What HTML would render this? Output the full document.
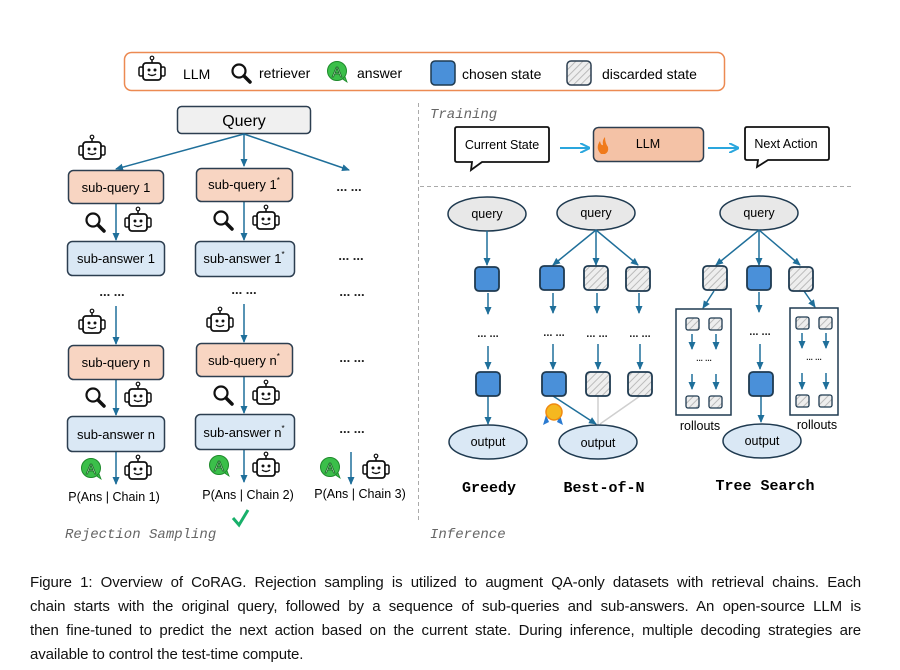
<!DOCTYPE html>
<html><head><meta charset="utf-8"><style>
body{margin:0;background:#fff;width:900px;height:670px;overflow:hidden}
svg{display:block}
text{font-family:"Liberation Sans",sans-serif}
text.mono,.mono text{font-family:"Liberation Mono",monospace}
.cap{position:absolute;left:30px;top:571px;width:831px;font-family:"Liberation Sans",sans-serif;font-size:15px;line-height:24px;color:#111}
.cap div{text-align:justify;text-align-last:justify;white-space:nowrap;letter-spacing:-0.1px}
.cap div.l{text-align-last:left}
</style></head><body>
<svg width="900" height="670" viewBox="0 0 900 670">
<defs>
<marker id="a" markerWidth="8" markerHeight="8" refX="7" refY="4" orient="auto" markerUnits="userSpaceOnUse"><path d="M0,0.5 L8,4 L0,7.5Z" fill="#1f6f9a"/></marker>
<marker id="b" markerWidth="10" markerHeight="10" refX="9" refY="5" orient="auto" markerUnits="userSpaceOnUse"><path d="M0,0 L10,5 L0,10" fill="none" stroke="#2aa6dd" stroke-width="2"/></marker>
<pattern id="h" width="5" height="5" patternUnits="userSpaceOnUse" patternTransform="rotate(45)"><rect width="5" height="5" fill="#eee"/><line x1="0" y1="0" x2="0" y2="5" stroke="#bbb" stroke-width="2"/></pattern>
<g id="bot"><line x1="15" y1="2" x2="15" y2="7" stroke="#111" stroke-width="1.5"/><circle cx="15" cy="2" r="1.8" fill="#fff" stroke="#111" stroke-width="1.2"/><rect x="6" y="7" width="18" height="17" rx="3" fill="#fff" stroke="#111" stroke-width="1.8"/><rect x="2" y="11" width="4" height="9" rx="1.5" fill="#fff" stroke="#111" stroke-width="1.5"/><rect x="24" y="11" width="4" height="9" rx="1.5" fill="#fff" stroke="#111" stroke-width="1.5"/><circle cx="12" cy="14" r="1.5" fill="#111"/><circle cx="18" cy="14" r="1.5" fill="#111"/><path d="M11,18 Q15,21 19,18" fill="none" stroke="#111" stroke-width="1.4"/></g>
<g id="mag"><circle cx="9" cy="9" r="6.5" fill="none" stroke="#111" stroke-width="2.2"/><line x1="14" y1="14" x2="20" y2="20" stroke="#111" stroke-width="3.5" stroke-linecap="round"/></g>
<g id="ans"><path d="M14,17 L20,21 L17,13Z" fill="#3bbf4a" stroke="#1d8a2a" stroke-width="0.8"/><circle cx="10" cy="10" r="9.5" fill="#3bbf4a" stroke="#1d8a2a" stroke-width="1"/><text x="10" y="16" font-size="15" text-anchor="middle" fill="#c8f5c8" stroke="#1d6a2a" stroke-width="0.8">A</text></g>
</defs>

<rect x="124.5" y="52.5" width="600" height="38" rx="7" fill="#fff" stroke="#ec8a52" stroke-width="1.5"/>
<use href="#bot" x="137" y="56"/>
<text x="183" y="79" font-size="14">LLM</text>
<use href="#mag" x="230" y="62"/>
<text x="259" y="78" font-size="14">retriever</text>
<use href="#ans" x="327" y="61"/>
<text x="357" y="78" font-size="14">answer</text>
<rect x="431" y="61" width="24" height="24" rx="4" fill="#4a90d9" stroke="#1e3a50" stroke-width="1.5"/>
<text x="462" y="79" font-size="14">chosen state</text>
<rect x="567" y="61" width="24" height="24" rx="4" fill="url(#h)" stroke="#2c3e50" stroke-width="1.5"/>
<text x="602" y="79" font-size="14">discarded state</text>

<line x1="418.5" y1="103" x2="418.5" y2="522" stroke="#aaa" stroke-dasharray="4,3"/>
<line x1="420" y1="186.5" x2="852" y2="186.5" stroke="#aaa" stroke-dasharray="4,3"/>

<rect x="177.5" y="106.5" width="133" height="27" rx="4" fill="#f0f0f0" stroke="#2c3e50" stroke-width="1.5"/>
<text x="244" y="126" font-size="16" text-anchor="middle">Query</text>
<g stroke="#1f6f9a" stroke-width="1.5" marker-end="url(#a)">
<line x1="244" y1="134" x2="116" y2="169"/>
<line x1="244" y1="134" x2="244" y2="166"/>
<line x1="244" y1="134" x2="349" y2="170"/>
<line x1="116" y1="204" x2="116" y2="240"/>
<line x1="244" y1="202" x2="244" y2="240"/>
<line x1="116" y1="306" x2="116" y2="344"/>
<line x1="244" y1="304" x2="244" y2="342"/>
<line x1="116" y1="380" x2="116" y2="415"/>
<line x1="244" y1="377" x2="244" y2="413"/>
<line x1="116" y1="452" x2="116" y2="484"/>
<line x1="244" y1="450" x2="244" y2="482"/>
<line x1="351" y1="452" x2="351" y2="484"/>
</g>
<use href="#bot" x="77" y="135"/>
<g font-size="13" text-anchor="middle">
<rect x="68.5" y="170.5" width="95" height="33" rx="5" fill="#f8d5c2" stroke="#2c3e50" stroke-width="1.5"/><text x="116" y="192">sub-query 1</text>
<rect x="196.5" y="168.5" width="96" height="33" rx="5" fill="#f8d5c2" stroke="#2c3e50" stroke-width="1.5"/><text x="244" y="189">sub-query 1<tspan font-size="8" dy="-6">*</tspan></text>
<rect x="67.5" y="241.5" width="97" height="34" rx="5" fill="#dae8f5" stroke="#2c3e50" stroke-width="1.5"/><text x="116" y="263">sub-answer 1</text>
<rect x="195.5" y="241.5" width="99" height="35" rx="5" fill="#dae8f5" stroke="#2c3e50" stroke-width="1.5"/><text x="244" y="263">sub-answer 1<tspan font-size="8" dy="-6">*</tspan></text>
<rect x="68.5" y="345.5" width="95" height="34" rx="5" fill="#f8d5c2" stroke="#2c3e50" stroke-width="1.5"/><text x="116" y="367">sub-query n</text>
<rect x="196.5" y="343.5" width="96" height="33" rx="5" fill="#f8d5c2" stroke="#2c3e50" stroke-width="1.5"/><text x="244" y="365">sub-query n<tspan font-size="8" dy="-6">*</tspan></text>
<rect x="67.5" y="416.5" width="97" height="35" rx="5" fill="#dae8f5" stroke="#2c3e50" stroke-width="1.5"/><text x="116" y="439">sub-answer n</text>
<rect x="195.5" y="414.5" width="99" height="35" rx="5" fill="#dae8f5" stroke="#2c3e50" stroke-width="1.5"/><text x="244" y="437">sub-answer n<tspan font-size="8" dy="-6">*</tspan></text>
</g>
<use href="#mag" x="84" y="211"/><use href="#bot" x="123" y="207"/>
<use href="#mag" x="212" y="209"/><use href="#bot" x="251" y="205"/>
<use href="#bot" x="77" y="309"/><use href="#bot" x="205" y="307"/>
<use href="#mag" x="84" y="386"/><use href="#bot" x="123" y="382"/>
<use href="#mag" x="212" y="384"/><use href="#bot" x="251" y="380"/>
<use href="#ans" x="81" y="458"/><use href="#bot" x="123" y="455"/>
<use href="#ans" x="209" y="455"/><use href="#bot" x="251" y="452"/>
<use href="#ans" x="320" y="457"/><use href="#bot" x="361" y="454"/>
<g font-size="13" font-weight="bold" text-anchor="middle" fill="#222">
<text x="349" y="191">... ...</text><text x="351" y="260">... ...</text>
<text x="112" y="296">... ...</text><text x="244" y="294">... ...</text><text x="352" y="296">... ...</text>
<text x="352" y="362">... ...</text><text x="352" y="433">... ...</text>
</g>
<g font-size="12.5" text-anchor="middle">
<text x="114" y="501">P(Ans | Chain 1)</text><text x="248" y="499">P(Ans | Chain 2)</text><text x="360" y="498">P(Ans | Chain 3)</text>
</g>
<path d="M233,518 L239,525 L248,510" fill="none" stroke="#18b06a" stroke-width="3"/>
<text x="65" y="538" class="mono" font-size="14" font-style="italic" fill="#666">Rejection Sampling</text>

<text x="430" y="118" class="mono" font-size="14" font-style="italic" fill="#666">Training</text>
<path d="M457,127 H547 Q549,127 549,129 V160 Q549,162 547,162 H482 L471,170 L472,162 H457 Q455,162 455,160 V129 Q455,127 457,127Z" fill="#fff" stroke="#111" stroke-width="1.8"/>
<text x="502" y="149" font-size="12.5" text-anchor="middle">Current State</text>
<line x1="560" y1="148" x2="589" y2="148" stroke="#2aa6dd" stroke-width="2" marker-end="url(#b)"/>
<rect x="593.5" y="127.5" width="110" height="34" rx="5" fill="#f4c2a6" stroke="#2c3e50" stroke-width="1.5"/>
<path d="M601,154 Q595,148 600,141 Q601,146 603,145 Q602,140 605,137 Q605,143 608,147 Q609,152 605,154Z" fill="#f07a1a"/>
<text x="648" y="148" font-size="12.5" text-anchor="middle">LLM</text>
<line x1="708" y1="148" x2="738" y2="148" stroke="#2aa6dd" stroke-width="2" marker-end="url(#b)"/>
<path d="M747,127 H827 Q829,127 829,129 V158 Q829,160 827,160 H768 L757,167 L758,160 H747 Q745,160 745,158 V129 Q745,127 747,127Z" fill="#fff" stroke="#111" stroke-width="1.8"/>
<text x="786" y="148" font-size="12.5" text-anchor="middle">Next Action</text>

<g stroke="#1f3a50" stroke-width="1.5">
<ellipse cx="487" cy="214" rx="39" ry="17" fill="#e8e8e8"/>
<ellipse cx="596" cy="213" rx="39" ry="17" fill="#e8e8e8"/>
<ellipse cx="759" cy="213" rx="39" ry="17" fill="#e8e8e8"/>
</g>
<g font-size="12.5" text-anchor="middle"><text x="487" y="218">query</text><text x="596" y="217">query</text><text x="759" y="217">query</text></g>
<g stroke="#cfcfcf" stroke-width="1.5"><line x1="598" y1="396" x2="598" y2="424"/><line x1="640" y1="396" x2="600" y2="424"/></g>
<g stroke="#1f6f9a" stroke-width="1.5" marker-end="url(#a)">
<line x1="487" y1="231" x2="487" y2="265"/>
<line x1="596" y1="230" x2="553" y2="265"/><line x1="596" y1="230" x2="596" y2="265"/><line x1="596" y1="230" x2="638" y2="265"/>
<line x1="759" y1="230" x2="716" y2="265"/><line x1="759" y1="230" x2="759" y2="265"/><line x1="759" y1="230" x2="800" y2="265"/>
<line x1="488" y1="293" x2="488" y2="314"/><line x1="553" y1="293" x2="553" y2="313"/><line x1="597" y1="293" x2="597" y2="313"/><line x1="639" y1="293" x2="639" y2="313"/>
<line x1="759" y1="292" x2="759" y2="312"/>
<line x1="488" y1="346" x2="488" y2="369"/><line x1="553" y1="344" x2="553" y2="369"/><line x1="598" y1="344" x2="598" y2="369"/><line x1="640" y1="344" x2="640" y2="369"/>
<line x1="760" y1="344" x2="760" y2="369"/>
<line x1="488" y1="396" x2="488" y2="424"/>
<line x1="553" y1="396" x2="596" y2="424"/>
<line x1="761" y1="396" x2="761" y2="422"/>
<line x1="714" y1="291" x2="703" y2="308"/><line x1="804" y1="291" x2="815" y2="307"/>
<line x1="692" y1="334" x2="692" y2="349"/><line x1="716" y1="334" x2="716" y2="349"/>
<line x1="692" y1="374" x2="692" y2="389"/><line x1="716" y1="374" x2="716" y2="389"/>
<line x1="802" y1="333" x2="802" y2="348"/><line x1="826" y1="333" x2="826" y2="348"/>
<line x1="802" y1="373" x2="802" y2="389"/><line x1="826" y1="373" x2="826" y2="389"/>
</g>
<g stroke="#1f3a50" stroke-width="1.8">
<rect x="475" y="267" width="24" height="24" rx="4" fill="#4a90d9"/>
<rect x="540" y="266" width="24" height="24" rx="4" fill="#4a90d9"/>
<rect x="584" y="266" width="24" height="24" rx="4" fill="url(#h)"/>
<rect x="626" y="267" width="24" height="24" rx="4" fill="url(#h)"/>
<rect x="703" y="266" width="24" height="24" rx="4" fill="url(#h)"/>
<rect x="747" y="266" width="24" height="24" rx="4" fill="#4a90d9"/>
<rect x="789" y="267" width="24" height="24" rx="4" fill="url(#h)"/>
<rect x="476" y="372" width="24" height="24" rx="4" fill="#4a90d9"/>
<rect x="542" y="372" width="24" height="24" rx="4" fill="#4a90d9"/>
<rect x="586" y="372" width="24" height="24" rx="4" fill="url(#h)"/>
<rect x="628" y="372" width="24" height="24" rx="4" fill="url(#h)"/>
<rect x="749" y="372" width="24" height="24" rx="4" fill="#4a90d9"/>
</g>
<g stroke="#1f3a50" stroke-width="1.5" fill="none">
<rect x="676" y="309" width="55" height="106"/>
<rect x="790" y="308" width="48" height="107"/>
</g>
<g stroke="#1f3a50" stroke-width="1.3" fill="url(#h)">
<rect x="686" y="318" width="13" height="12" rx="2"/><rect x="709" y="318" width="13" height="12" rx="2"/>
<rect x="686" y="396" width="13" height="12" rx="2"/><rect x="709" y="396" width="13" height="12" rx="2"/>
<rect x="796" y="317" width="13" height="12" rx="2"/><rect x="819" y="317" width="13" height="12" rx="2"/>
<rect x="796" y="395" width="13" height="12" rx="2"/><rect x="819" y="395" width="13" height="12" rx="2"/>
</g>
<g font-size="11" font-weight="bold" text-anchor="middle" fill="#222">
<text x="488" y="337">... ...</text><text x="554" y="336">... ...</text><text x="597" y="337">... ...</text><text x="640" y="337">... ...</text><text x="760" y="335">... ...</text>
<text x="704" y="361" font-size="8">... ...</text><text x="814" y="360" font-size="8">... ...</text>
</g>
<g stroke="#1f3a50" stroke-width="1.5" fill="#dae8f5">
<ellipse cx="488" cy="442" rx="39" ry="17"/><ellipse cx="598" cy="442" rx="39" ry="17"/><ellipse cx="762" cy="441" rx="39" ry="17"/>
</g>
<g font-size="12.5" text-anchor="middle"><text x="488" y="446">output</text><text x="598" y="447">output</text><text x="762" y="445">output</text>
<text x="700" y="430">rollouts</text><text x="817" y="429">rollouts</text></g>
<path d="M546,415 L543,425 L549,422Z M560,415 L563,425 L557,422Z" fill="#2a7ad0"/>
<circle cx="554" cy="412" r="8" fill="#f5b820" stroke="#f08a10" stroke-width="1.5"/>
<g class="mono" font-size="15" font-weight="bold" text-anchor="middle">
<text x="489" y="492">Greedy</text><text x="604" y="492">Best-of-N</text><text x="765" y="490">Tree Search</text>
</g>
<text x="430" y="538" class="mono" font-size="14" font-style="italic" fill="#666">Inference</text>
</svg>
<div class="cap">
<div>Figure 1: Overview of CoRAG. Rejection sampling is utilized to augment QA-only datasets with retrieval chains. Each</div>
<div>chain starts with the original query, followed by a sequence of sub-queries and sub-answers. An open-source LLM is</div>
<div>then fine-tuned to predict the next action based on the current state. During inference, multiple decoding strategies are</div>
<div class="l">available to control the test-time compute.</div>
</div>
</body></html>
